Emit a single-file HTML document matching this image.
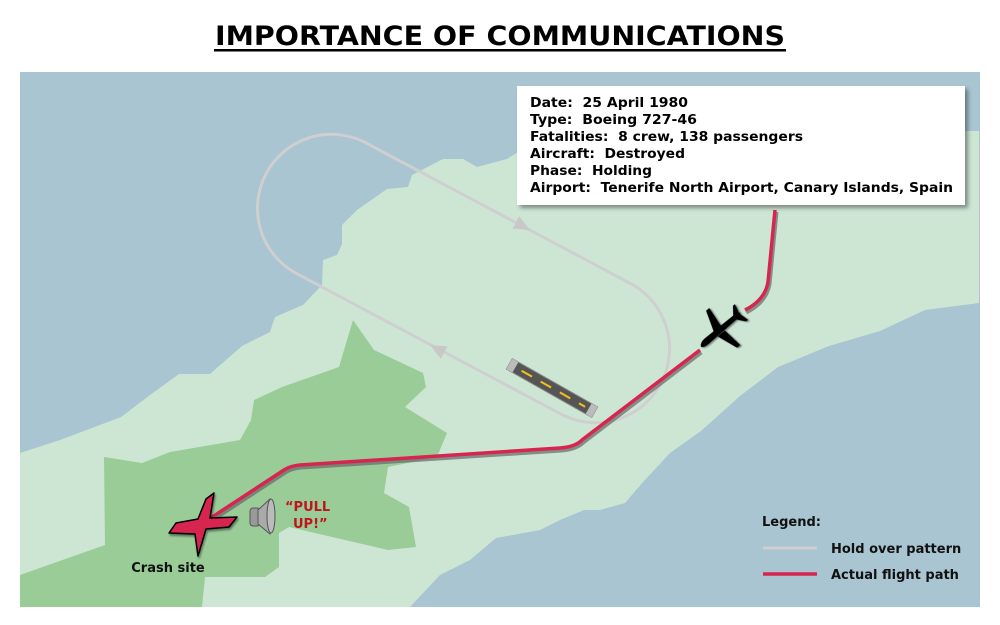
<!DOCTYPE html>
<html><head><meta charset="utf-8"><style>
html,body{margin:0;padding:0;background:#fff;width:1000px;height:625px;overflow:hidden}
svg{display:block}
text{font-family:"DejaVu Sans","Liberation Sans",sans-serif;font-weight:bold}
</style></head><body>
<svg width="1000" height="625" viewBox="0 0 1000 625" xmlns="http://www.w3.org/2000/svg">
<defs>
<filter id="sh" x="-10%" y="-10%" width="130%" height="140%"><feDropShadow dx="3" dy="3" stdDeviation="2" flood-color="#000" flood-opacity="0.4"/></filter>
<filter id="sh2" x="-10%" y="-10%" width="130%" height="130%"><feDropShadow dx="1" dy="2" stdDeviation="1" flood-color="#000" flood-opacity="0.45"/></filter>
</defs>
<text x="500" y="45" text-anchor="middle" font-size="27" textLength="570" lengthAdjust="spacingAndGlyphs" fill="#000">IMPORTANCE OF COMMUNICATIONS</text>
<rect x="214" y="49" width="572" height="2.5" fill="#000"/>
<rect x="20" y="72" width="960" height="535" fill="#a8c5d1"/>
<polygon fill="#cde6d4" points="20,453 60,440 121,417 150,395 179,374 210,374 242,346 270,332 275,317 303,305 322,285 323,260 337,255 342,244 342,225 357,210 387,189 408,187 412,175 443,159 463,159 477,167 507,159 518,152 560,130 979,131 979,303 925,310 880,331 829,346 778,367 740,396 701,431 670,453 644,481 625,503 600,510 584,510 560,520 540,530 496,538 470,560 440,575 410,607 20,607"/>
<polygon fill="#9acc98" points="104,457 142,463 170,452 240,440 251,420 254,400 282,387 339,367 353,320 374,350 423,373 426,387 405,407 447,433 437,457 388,467 384,493 409,507 416,547 388,550 289,527 279,533 279,567 265,577 205,577 202,607 20,607 20,575 105,545"/>
<!-- holding pattern -->
<path d="M363.7,141.7 L632.7,284.7 A74,74 0 0 1 563.3,415.3 L294.3,272.3 A74,74 0 0 1 363.7,141.7 Z" fill="none" stroke="#cfcfcf" stroke-width="3"/>
<g fill="#c8c8c8">
<polygon points="0,0 -16,-7 -16,7" transform="translate(530,230) rotate(28)"/>
<polygon points="0,0 -16,-7 -16,7" transform="translate(430,345) rotate(208)"/>
</g>
<!-- runway -->
<g transform="translate(552,388) rotate(29.5)">
<rect x="-49" y="-6" width="98" height="12" fill="#555" stroke="#888" stroke-width="1"/>
<rect x="-49" y="-6" width="7" height="12" fill="#bbb"/>
<rect x="42" y="-6" width="7" height="12" fill="#bbb"/>
<line x1="-35" y1="0" x2="38" y2="0" stroke="#f2c21a" stroke-width="2" stroke-dasharray="12,10"/>
</g>
<!-- flight path -->
<path d="M775,210 L768,282 Q765,300 745,310 M700,350 L582,440 Q575,447 560,448 L300,465 Q290,466 284,470 L200,525" fill="none" stroke="#666" stroke-width="5" transform="translate(1,2)" opacity="0.7"/>
<path d="M775,210 L768,282 Q765,300 745,310 M700,350 L582,440 Q575,447 560,448 L300,465 Q290,466 284,470 L200,525" fill="none" stroke="#d62650" stroke-width="3.5"/>
<!-- plane -->
<g fill="#000" filter="url(#sh2)" transform="translate(720,330) rotate(-40) scale(0.85) translate(-720,-330)">
<path d="M690,331 Q692,326 700,326 L745,327 L752,330 L745,333 L700,334 Q692,334 690,331 Z"/>
<path d="M713,327 L722,302 L727,302 L724,327 Z"/>
<path d="M713,334 L722,359 L727,359 L724,334 Z"/>
<path d="M742,328 L750,318 L753,318 L750,330 Z"/>
<path d="M742,332 L750,342 L753,342 L750,330 Z"/>
</g>
<!-- crash X -->
<g filter="url(#sh2)">
<path d="M206,499 L214,493 L210,518 L237,517 L229,527 L206,529 L198,556 L195,534 L169,533 L176,523 L198,519 Z" fill="#d62650" stroke="#000" stroke-width="1.5" stroke-linejoin="round"/>
</g>
<text x="168" y="572" text-anchor="middle" font-size="13" fill="#111">Crash site</text>
<!-- speaker -->
<g stroke="#555" stroke-width="1">
<rect x="250" y="508" width="10" height="18" rx="3" fill="#999"/>
<path d="M258,510 L270,499 Q276,516 270,534 L258,524 Z" fill="#aaa"/>
<ellipse cx="271" cy="516" rx="4" ry="17" fill="#bbb"/>
</g>
<text x="285" y="511" font-size="13" fill="#c0141c">“PULL</text>
<text x="293" y="528" font-size="13" fill="#c0141c">UP!”</text>
<!-- info box -->
<rect x="517" y="86" width="448" height="119" fill="#fff" filter="url(#sh)"/>
<g font-size="13" fill="#000">
<text x="530" y="107" textLength="158" lengthAdjust="spacingAndGlyphs" xml:space="preserve">Date:  25 April 1980</text>
<text x="530" y="124" textLength="167" lengthAdjust="spacingAndGlyphs" xml:space="preserve">Type:  Boeing 727-46</text>
<text x="530" y="141" textLength="273" lengthAdjust="spacingAndGlyphs" xml:space="preserve">Fatalities:  8 crew, 138 passengers</text>
<text x="530" y="158" textLength="155" lengthAdjust="spacingAndGlyphs" xml:space="preserve">Aircraft:  Destroyed</text>
<text x="530" y="175" textLength="122" lengthAdjust="spacingAndGlyphs" xml:space="preserve">Phase:  Holding</text>
<text x="530" y="192" textLength="423" lengthAdjust="spacingAndGlyphs" xml:space="preserve">Airport:  Tenerife North Airport, Canary Islands, Spain</text>
</g>
<!-- legend -->
<text x="762" y="526" font-size="13" fill="#111">Legend:</text>
<line x1="763" y1="548" x2="817" y2="548" stroke="#cfcfcf" stroke-width="3"/>
<text x="831" y="553" font-size="13" fill="#111">Hold over pattern</text>
<line x1="763" y1="574" x2="817" y2="574" stroke="#d62650" stroke-width="3.5"/>
<text x="831" y="579" font-size="13" fill="#111">Actual flight path</text>
</svg>
</body></html>
